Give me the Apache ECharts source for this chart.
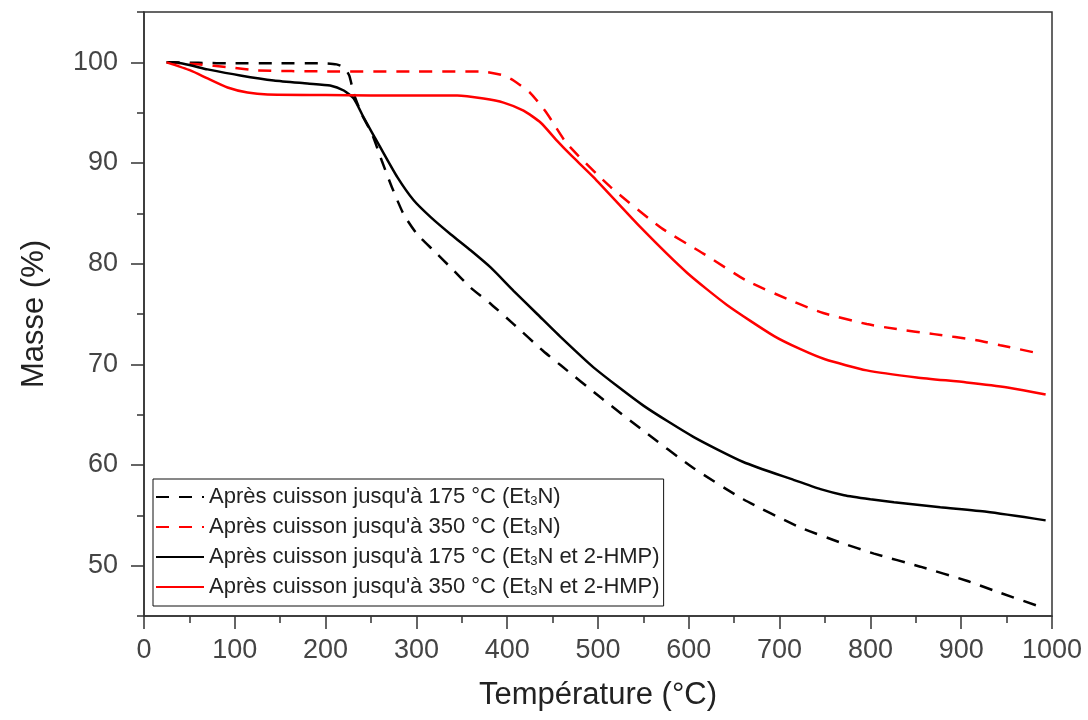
<!DOCTYPE html>
<html>
<head>
<meta charset="utf-8">
<script src="https://cdn.jsdelivr.net/npm/echarts@6/dist/echarts.min.js"></script>
<style>
  html, body { margin: 0; padding: 0; background: #fff; }
  #chart { width: 1088px; height: 720px; }
</style>
</head>
<body>
<div id="chart"></div>
<script>
// TGA curves, mass (%) vs temperature (°C)
var tempBlackDash = [25, 60, 100, 150, 200, 212, 220, 226, 231, 240, 251, 262, 273, 286, 301, 319, 338, 360, 382, 407, 440, 459, 503, 550, 605, 660, 720, 767, 804, 855, 906, 943, 991];
var massBlackDash = [100, 99.95, 99.9, 99.9, 99.9, 99.8, 99.5, 98.7, 96.9, 94.8, 92.9, 90.2, 87.6, 84.9, 82.9, 81.3, 79.6, 77.6, 76.0, 74.0, 71.3, 69.9, 66.7, 63.4, 59.7, 56.6, 53.9, 52.3, 51.2, 49.9, 48.5, 47.3, 45.8];

var tempRedDash = [25, 59, 95, 125, 200, 300, 370, 396, 407, 426, 444, 466, 514, 569, 616, 664, 716, 748, 796, 829, 870, 917, 943, 985];
var massRedDash = [100, 99.8, 99.5, 99.2, 99.1, 99.1, 99.1, 98.7, 98.2, 96.9, 94.9, 91.9, 87.6, 83.6, 81.0, 78.3, 76.2, 75.1, 74.0, 73.5, 73.0, 72.4, 71.9, 71.1];

var tempBlack = [25, 33, 70, 106, 143, 180, 205, 220, 231, 242, 260, 279, 297, 316, 338, 360, 382, 407, 433, 459, 495, 550, 605, 660, 716, 745, 771, 800, 826, 877, 928, 993];
var massBlack = [100, 100, 99.3, 98.7, 98.2, 97.9, 97.7, 97.2, 96.4, 94.5, 91.6, 88.6, 86.3, 84.6, 82.9, 81.3, 79.6, 77.3, 75.0, 72.7, 69.7, 65.9, 62.8, 60.3, 58.5, 57.6, 57.0, 56.6, 56.3, 55.8, 55.35, 54.5];

var tempRed = [25, 51, 70, 92, 114, 136, 200, 250, 300, 345, 374, 396, 418, 437, 455, 470, 495, 547, 598, 642, 694, 723, 750, 796, 851, 906, 951, 993];
var massRed = [100, 99.2, 98.4, 97.5, 97.0, 96.8, 96.75, 96.7, 96.7, 96.7, 96.4, 96.0, 95.2, 94.0, 92.2, 90.8, 88.6, 83.6, 79.1, 75.9, 72.8, 71.5, 70.5, 69.4, 68.7, 68.2, 67.7, 67.0];

var seriesNames = [
    "Après cuisson jusqu'à 175 °C (Et3N)",
    "Après cuisson jusqu'à 350 °C (Et3N)",
    "Après cuisson jusqu'à 175 °C (Et3N et 2-HMP)",
    "Après cuisson jusqu'à 350 °C (Et3N et 2-HMP)"
];

var yMajorTicks = [50, 60, 70, 80, 90, 100];
var yMinorTicks = [45, 55, 65, 75, 85, 95, 105];

function zip(xs, ys) {
    var out = [];
    xs.forEach(function(x, i) {
        out.push([x, ys[i]]);
    });
    return out;
}

function makeLine(name, xs, ys, color, dashed) {
    return {
        name: name,
        type: 'line',
        data: zip(xs, ys),
        symbol: 'none',
        smooth: 0.2,
        lineStyle: {
            color: color,
            width: 2.5,
            type: dashed ? [13, 10] : 'solid'
        },
        itemStyle: { color: color }
    };
}

var labelFont = 'Liberation Sans, Arial, sans-serif';

var option = {
    backgroundColor: '#fff',
    animation: false,
    grid: {
        left: 144, right: 36, top: 12, bottom: 104,
        show: true,
        borderColor: '#333',
        borderWidth: 1.5
    },
    legend: {
        orient: 'vertical',
        left: 153,
        top: 479,
        padding: [7, 4, 8, 2],
        itemWidth: 48,
        itemHeight: 14,
        itemGap: 8,
        borderColor: '#111',
        borderWidth: 1,
        backgroundColor: '#fff',
        itemStyle: { opacity: 0 },
        data: seriesNames,
        formatter: function(name) {
            return name.replace('Et3N', 'Et{s|3}N');
        },
        textStyle: {
            fontFamily: labelFont,
            fontSize: 22,
            color: '#222',
            lineHeight: 22,
            rich: {
                s: { fontFamily: labelFont, fontSize: 13, color: '#222', verticalAlign: 'bottom', lineHeight: 22 }
            }
        }
    },
    xAxis: {
        type: 'value',
        min: 0, max: 1000, interval: 100,
        name: 'Température (°C)',
        nameLocation: 'middle',
        nameGap: 64,
        nameTextStyle: { fontFamily: labelFont, fontSize: 31, color: '#222' },
        axisLine: { show: true, lineStyle: { color: '#333', width: 1.5 } },
        axisTick: { show: true, length: 13, lineStyle: { color: '#333', width: 1.5 } },
        minorTick: { show: true, splitNumber: 2, length: 7, lineStyle: { color: '#333', width: 1.5 } },
        axisLabel: {
            fontFamily: labelFont, fontSize: 27, color: '#444', margin: 21,
            formatter: function(v) { return String(v); }
        },
        splitLine: { show: false }
    },
    yAxis: [{
        type: 'value',
        min: 45, max: 105,
        name: 'Masse (%)',
        nameLocation: 'middle',
        nameGap: 94,
        nameTextStyle: { fontFamily: labelFont, fontSize: 31, color: '#222' },
        axisLine: { show: true, lineStyle: { color: '#333', width: 1.5 } },
        axisTick: { show: true, length: 13, customValues: yMajorTicks, lineStyle: { color: '#333', width: 1.5 } },
        axisLabel: { fontFamily: labelFont, fontSize: 27, color: '#444', margin: 26, customValues: yMajorTicks },
        splitLine: { show: false }
    }, {
        type: 'value',
        position: 'left',
        min: 45, max: 105,
        axisLine: { show: false },
        axisTick: { show: true, length: 7, customValues: yMinorTicks, lineStyle: { color: '#333', width: 1.5 } },
        axisLabel: { show: false },
        splitLine: { show: false }
    }],
    series: [
        makeLine(seriesNames[0], tempBlackDash, massBlackDash, '#000', true),
        makeLine(seriesNames[1], tempRedDash, massRedDash, '#ff0000', true),
        makeLine(seriesNames[2], tempBlack, massBlack, '#000', false),
        makeLine(seriesNames[3], tempRed, massRed, '#ff0000', false)
    ]
};

echarts.init(document.getElementById('chart')).setOption(option);
</script>
</body>
</html>
